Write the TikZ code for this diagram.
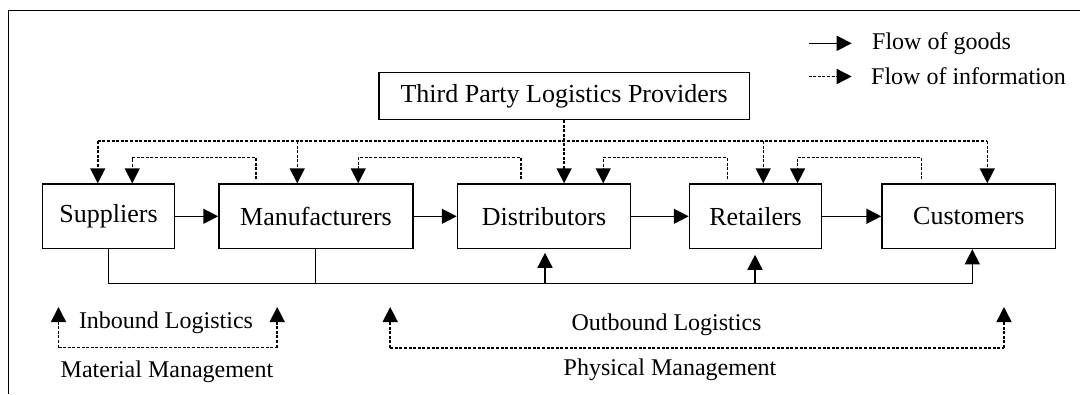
\documentclass[tikz,border=0pt]{standalone}
\usepackage{fontspec}
\setmainfont{Liberation Serif}
\usetikzlibrary{arrows.meta,calc}

\tikzset{
  box/.style={draw, line width=1.5pt, inner sep=0pt, anchor=center,
              font=\fontsize{26}{30}\selectfont},
  lbl/.style={inner sep=0pt, font=\fontsize{24}{28}\selectfont},
  goods/.style={line width=1.5pt, -{Triangle[width=15pt,length=15pt]}},
  goodsline/.style={line width=1.5pt},
  info/.style={line width=1.5pt, dash pattern=on 3pt off 1.6pt,
               -{Triangle[width=15pt,length=15pt]}},
  infoline/.style={line width=1.5pt, dash pattern=on 3pt off 1.6pt},
  frameline/.style={line width=1.6pt},
}

\begin{document}
\begin{tikzpicture}[x=1pt, y=-1pt]
\useasboundingbox (0,0) rectangle (1080,394);

% outer frame (top and left edges)
\coordinate (fTL) at (8.3,10.3);
\coordinate (fTR) at (1080,10.3);
\coordinate (fBL) at (8.3,394);
\draw[frameline] (fTR) -- (fTL) -- (fBL);

% supply chain stages
\node[box, minimum width=132pt,   minimum height=64.5pt] (sup) at (108.5,216.3) {Suppliers};
\node[box, minimum width=194pt,   minimum height=64.5pt] (man) at (316,216.3) {Manufacturers};
\node[box, minimum width=173pt,   minimum height=64.5pt] (dis) at (544,216.3) {Distributors};
\node[box, minimum width=132.2pt, minimum height=64.5pt] (ret) at (755.6,216.3) {Retailers};
\node[box, minimum width=173.5pt, minimum height=64.5pt] (cus) at (968.8,216.3) {Customers};
\node[box, minimum width=370.6pt, minimum height=46.6pt] (tpl) at (564.1,96) {Third Party Logistics Providers};

% levels of the horizontal runs
\coordinate (outer) at (0,141);
\coordinate (inner) at (0,157.5);
\coordinate (rail)  at (0,283.3);

% ports on the tops of the boxes
\coordinate (supO) at ($(sup.north west)+(56,0)$);
\coordinate (supI) at ($(sup.north west)+(90.5,0)$);
\coordinate (manO) at ($(man.north west)+(79,0)$);
\coordinate (manI) at ($(man.north west)+(140,0)$);
\coordinate (manS) at ($(man.north west)+(37.5,-4)$);
\coordinate (disI) at ($(dis.north west)+(146.5,0)$);
\coordinate (disS) at ($(dis.north west)+(64,-4)$);
\coordinate (retO) at ($(ret.north west)+(74.5,0)$);
\coordinate (retI) at ($(ret.north west)+(108.8,0)$);
\coordinate (retS) at ($(ret.north west)+(38.5,-4)$);
\coordinate (cusO) at ($(cus.north west)+(106,0)$);
\coordinate (cusS) at ($(cus.north west)+(40.3,-4)$);

% ports on the bottoms of the boxes
\coordinate (supB) at ($(sup.south west)+(66.5,0)$);
\coordinate (manB) at ($(man.south west)+(97,0)$);
\coordinate (disB) at ($(dis.south)+(1,3.5)$);
\coordinate (retB) at ($(ret.south)+(-0.6,5.5)$);
\coordinate (cusB) at ($(cus.south west)+(91,0)$);

% flow of goods between stages
\draw[goods] (sup.east) -- (man.west);
\draw[goods] (man.east) -- (dis.west);
\draw[goods] (dis.east) -- (ret.west);
\draw[goods] (ret.east) -- (cus.west);

% goods delivered along the bottom rail
\draw[goods] (supB) |- (cusB |- rail) -- (cusB);
\draw[goodsline] (manB) -- (manB |- rail);
\draw[goods] (disB |- rail) -- (disB);
\draw[goods] (retB |- rail) -- (retB);

% flow of information from the logistics providers
\draw[info] (tpl.south) -- (tpl.south |- dis.north);
\draw[infoline] (supO |- outer) -- (cusO |- outer);
\draw[info] (supO |- outer) -- (supO);
\draw[info] (manO |- outer) -- (manO);
\draw[info] (retO |- outer) -- (retO);
\draw[info] (cusO |- outer) -- (cusO);

% flow of information upstream between neighbouring stages
\draw[info] (manS) |- (supI |- inner) -- (supI);
\draw[info] (disS) |- (manI |- inner) -- (manI);
\draw[info] (retS) |- (disI |- inner) -- (disI);
\draw[info] (cusS) |- (retI |- inner) -- (retI);

% legend
\coordinate (lgA) at (808.6,43.3);
\coordinate (lgB) at (851.7,43.3);
\coordinate (lgC) at (808.6,76.5);
\coordinate (lgD) at (851.7,76.5);
\draw[goods] (lgA) -- (lgB);
\draw[info] (lgC) -- (lgD);
\node[lbl, anchor=west] (lgGoods) at (872,43.3) {Flow of goods};
\node[lbl, anchor=west] (lgInfo) at (871,76.5) {Flow of information};

% inbound logistics bracket
\coordinate (inL) at (58.5,347.5);
\coordinate (inR) at (277.2,347.5);
\coordinate (inLt) at (58.5,307);
\coordinate (inRt) at (277.2,307);
\draw[info] (inL) -- (inLt);
\draw[info] (inR) -- (inRt);
\draw[infoline] (inL) -- (inR);
\node[lbl] (inbound) at (166,323) {Inbound Logistics};
\node[lbl] (material) at (167,371.5) {Material Management};

% outbound logistics bracket
\coordinate (outL) at (390.2,348);
\coordinate (outR) at (1004,348);
\coordinate (outLt) at (390.2,307);
\coordinate (outRt) at (1004,307);
\draw[info] (outL) -- (outLt);
\draw[info] (outR) -- (outRt);
\draw[infoline] (outL) -- (outR);
\node[lbl] (outbound) at (666.5,325) {Outbound Logistics};
\node[lbl] (physical) at (670,370) {Physical Management};
\end{tikzpicture}
\end{document}
